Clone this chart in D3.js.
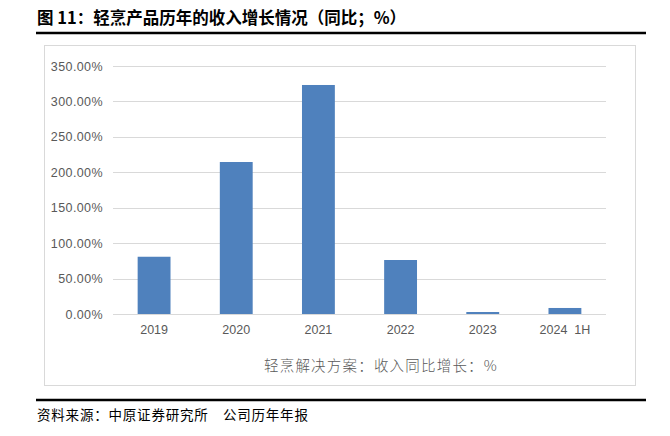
<!DOCTYPE html>
<html><head><meta charset="utf-8">
<script src="https://cdn.jsdelivr.net/npm/d3@7"></script>
<style>body{margin:0;background:#fff;} svg{display:block;}</style>
</head><body>
<svg id="c" width="670" height="436"></svg>
<script>
const categories = ["2019", "2020", "2021", "2022", "2023", "2024  1H"];
const growthValues = [80.8, 214.5, 323.2, 76.2, 2.8, 8.5];
const yTicks = [0, 50, 100, 150, 200, 250, 300, 350];
const titleText = "图 11：轻烹产品历年的收入增长情况（同比；%）";
const seriesName = "轻烹解决方案：收入同比增长：%";
const sourceText = "资料来源：中原证券研究所　公司历年年报";

const svg = d3.select("#c");
const cjk = "'Noto Sans CJK SC', 'Noto Sans', sans-serif";

// title
svg.append("text").attr("x", 37).attr("y", 24)
  .attr("font-family", cjk).attr("font-weight", "bold").attr("font-size", 16.5)
  .attr("fill", "#000").text(titleText);
svg.append("line").attr("x1", 36).attr("x2", 646).attr("y1", 33).attr("y2", 33)
  .attr("stroke", "#000").attr("stroke-width", 2.5);

// chart box
svg.append("rect").attr("x", 44.5).attr("y", 45.5).attr("width", 591).attr("height", 340)
  .attr("fill", "#fff").attr("stroke", "#d9d9d9").attr("stroke-width", 1);

const x = d3.scaleBand().domain(categories).range([113, 606]).paddingInner(0.6).paddingOuter(0.3);
const y = d3.scaleLinear().domain([0, 350]).range([314, 66]);

// gridlines
svg.append("g").selectAll("line").data(yTicks).join("line")
  .attr("x1", 113).attr("x2", 606)
  .attr("y1", d => Math.round(y(d)) + 0.5).attr("y2", d => Math.round(y(d)) + 0.5)
  .attr("stroke", "#d9d9d9").attr("stroke-width", 1);

// y axis
const yAxis = d3.axisLeft(y).tickValues(yTicks).tickSize(0).tickPadding(0)
  .tickFormat(d => d3.format(".2f")(d) + "%");
const gy = svg.append("g").attr("transform", "translate(103,0)").call(yAxis);
gy.select(".domain").remove();
gy.selectAll("text").attr("font-family", "'Liberation Sans', Arial, sans-serif")
  .attr("font-size", 12.5).attr("letter-spacing", 0.4).attr("fill", "#595959");

// bars
svg.append("g").selectAll("rect").data(categories).join("rect")
  .attr("x", d => x(d)).attr("width", x.bandwidth())
  .attr("y", (d, i) => y(growthValues[i]))
  .attr("height", (d, i) => y(0) - y(growthValues[i]))
  .attr("fill", "#4f81bd");

// x axis
const xAxis = d3.axisBottom(x).tickSize(0).tickPadding(0);
const gx = svg.append("g").attr("transform", "translate(0,325)").call(xAxis);
gx.select(".domain").remove();
gx.selectAll("text").attr("font-family", "'Liberation Sans', Arial, sans-serif")
  .attr("font-size", 12.5).attr("fill", "#595959").attr("dy", "0.75em").attr("y", 0)
  .style("white-space", "pre");

// series label
svg.append("text").attr("x", 381).attr("y", 371).attr("text-anchor", "middle")
  .attr("font-family", cjk).attr("font-size", 14.5).attr("letter-spacing", 1.2)
  .attr("font-weight", 300).attr("fill", "#595959")
  .text(seriesName);

// bottom rule + source
svg.append("line").attr("x1", 36).attr("x2", 646).attr("y1", 400).attr("y2", 400)
  .attr("stroke", "#000").attr("stroke-width", 2.5);
svg.append("text").attr("x", 37).attr("y", 420)
  .attr("font-family", cjk).attr("font-size", 13.5).attr("letter-spacing", 0.8)
  .attr("fill", "#000").style("white-space", "pre")
  .text(sourceText);
</script>
</body></html>
